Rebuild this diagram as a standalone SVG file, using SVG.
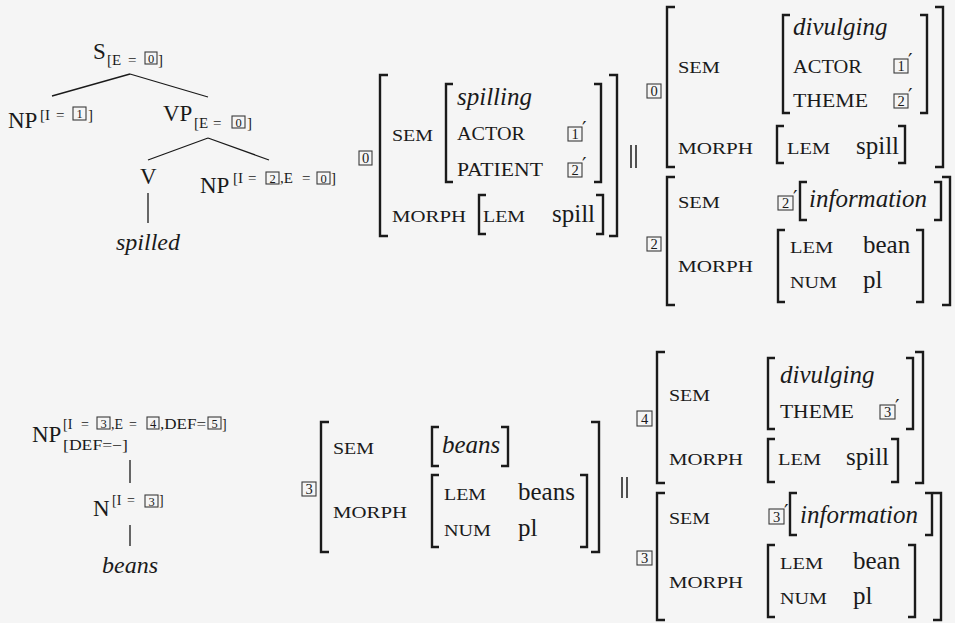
<svg xmlns="http://www.w3.org/2000/svg" width="955" height="623" viewBox="0 0 955 623">
  <style>
    text { font-family: "Liberation Serif", "DejaVu Serif", serif; fill: #1a1a1a; }
    .lbl { font-size: 23px; }
    .scr { font-size: 15px; }
    .scr2 { font-size: 14px; }
    .it { font-style: italic; }
    .word { font-size: 25px; }
    .sc { font-size: 16.5px; }
    .sc2 { font-size: 18.5px; }
    .dig { font-size: 14.5px; text-anchor: middle; }
    .dig2 { font-size: 12.5px; text-anchor: middle; }
    .prime { font-family: "DejaVu Serif", serif; font-size: 20px; }
    .tag { fill: none; stroke: #3a3a3a; stroke-width: 1.1; }
    .br { fill: none; stroke: #1a1a1a; stroke-width: 2.4; }
    .edge { fill: none; stroke: #1a1a1a; stroke-width: 1.3; }
    .bar { stroke: #1a1a1a; stroke-width: 1.5; }
  </style>
  <rect width="955" height="623" fill="#f5f5f5"/>

  <!-- tree edges -->
  <g id="connectors">
    <path class="edge" d="M130 74 L52 96 M130 74 L208 97"/>
    <path class="edge" d="M208 138 L148 160 M208 138 L269 160"/>
    <path class="edge" d="M148 193 V223"/>
    <path class="edge" d="M130 460 V483 M130 525 V546"/>
  </g>

  <!-- tree for "spilled" -->
  <g id="node-S">
    <text class="lbl" x="93" y="59">S</text>
    <text class="scr" x="107" y="65">[E</text>
    <text class="scr" x="128" y="65">=</text>
    <rect class="tag" x="145" y="52" width="12" height="12"/>
    <text class="dig2" x="151" y="62.5">0</text>
    <text class="scr" x="158" y="65">]</text>
  </g>
  <g id="node-NP-subj">
    <text class="lbl" x="8" y="128">NP</text>
    <text class="scr" x="40" y="120">[I</text>
    <text class="scr" x="56" y="120">=</text>
    <rect class="tag" x="73" y="107" width="13" height="13"/>
    <text class="dig2" x="79.5" y="118">1</text>
    <text class="scr" x="88" y="120">]</text>
  </g>
  <g id="node-VP">
    <text class="lbl" x="163" y="121">VP</text>
    <text class="scr" x="194" y="128">[E</text>
    <text class="scr" x="213" y="128">=</text>
    <rect class="tag" x="232" y="116" width="13" height="12"/>
    <text class="dig2" x="238.5" y="126.5">0</text>
    <text class="scr" x="247" y="128">]</text>
  </g>
  <g id="node-V">
    <text class="lbl" x="140" y="184">V</text>
  </g>
  <g id="node-NP-obj">
    <text class="lbl" x="200" y="193">NP</text>
    <text class="scr" x="233" y="183">[I</text>
    <text class="scr" x="248" y="183">=</text>
    <rect class="tag" x="266" y="172" width="13" height="12"/>
    <text class="dig2" x="272.5" y="182.5">2</text>
    <text class="scr" x="280" y="183">,E</text>
    <text class="scr" x="302" y="183">=</text>
    <rect class="tag" x="317" y="172" width="13" height="12"/>
    <text class="dig2" x="323.5" y="182.5">0</text>
    <text class="scr" x="331" y="183">]</text>
  </g>
  <g id="leaf-spilled">
    <text class="lbl it" x="116" y="250" style="font-size:24px">spilled</text>
  </g>

  <!-- tree for "beans" -->
  <g id="node-NP-beans">
    <text class="lbl" x="32" y="442">NP</text>
    <text class="scr2" x="63" y="429">[I</text>
    <text class="scr2" x="81" y="429">=</text>
    <rect class="tag" x="97" y="417" width="13" height="12"/>
    <text class="dig2" x="103.5" y="427.5">3</text>
    <text class="scr2" x="111" y="429">,E</text>
    <text class="scr2" x="129" y="429">=</text>
    <rect class="tag" x="147" y="417" width="12" height="12"/>
    <text class="dig2" x="153" y="427.5">4</text>
    <text class="scr2" x="160" y="429" textLength="46" lengthAdjust="spacingAndGlyphs">,DEF=</text>
    <rect class="tag" x="208" y="417" width="13" height="12"/>
    <text class="dig2" x="214.5" y="427.5">5</text>
    <text class="scr2" x="222" y="429">]</text>
    <text class="scr2" x="63" y="450" textLength="65" lengthAdjust="spacingAndGlyphs">[DEF=−]</text>
  </g>
  <g id="node-N">
    <text class="lbl" x="93" y="516">N</text>
    <text class="scr2" x="112" y="505">[I</text>
    <text class="scr2" x="127" y="505">=</text>
    <rect class="tag" x="145" y="495" width="13" height="12"/>
    <text class="dig2" x="151.5" y="505.5">3</text>
    <text class="scr2" x="159" y="505">]</text>
  </g>
  <g id="leaf-beans">
    <text class="lbl it" x="102" y="573" style="font-size:24px">beans</text>
  </g>

  <!-- AVM: spill (literal) -->
  <g id="avm-spill">
    <rect class="tag" x="359" y="151" width="13" height="14"/>
    <text class="dig" x="365.5" y="163">0</text>
    <path class="br" d="M388 75 H380 V236 H388 M609 75 H617 V236 H609"/>
    <text class="sc" x="392" y="141" textLength="41" lengthAdjust="spacingAndGlyphs">SEM</text>
    <path class="br" d="M453 84 H446 V182 H453 M594 84 H601 V182 H594"/>
    <text class="word it" x="457" y="105">spilling</text>
    <text class="sc2" x="457" y="140" textLength="68" lengthAdjust="spacingAndGlyphs">ACTOR</text>
    <rect class="tag" x="568" y="127" width="14" height="14"/>
    <text class="dig" x="575" y="139">1</text>
    <text class="prime" x="582" y="136">′</text>
    <text class="sc2" x="457" y="176" textLength="86" lengthAdjust="spacingAndGlyphs">PATIENT</text>
    <rect class="tag" x="568" y="163" width="14" height="14"/>
    <text class="dig" x="575" y="175">2</text>
    <text class="prime" x="582" y="172">′</text>
    <text class="sc" x="392" y="222" textLength="74" lengthAdjust="spacingAndGlyphs">MORPH</text>
    <path class="br" d="M486 195 H479 V234 H486 M596 195 H603 V234 H596"/>
    <text class="sc" x="483" y="222" textLength="42" lengthAdjust="spacingAndGlyphs">LEM</text>
    <text class="word" x="552" y="222">spill</text>
  </g>
  <g id="alt-1">
    <line class="bar" x1="631" y1="145" x2="631" y2="168"/>
    <line class="bar" x1="636" y1="145" x2="636" y2="168"/>
  </g>

  <!-- AVM: divulge (idiomatic) -->
  <g id="avm-divulge">
    <rect class="tag" x="647" y="84" width="14" height="14"/>
    <text class="dig" x="654" y="96">0</text>
    <path class="br" d="M675 7 H667 V167 H675 M935 7 H943 V167 H935"/>
    <text class="sc" x="678" y="73" textLength="42" lengthAdjust="spacingAndGlyphs">SEM</text>
    <path class="br" d="M790 15 H783 V113 H790 M920 15 H927 V113 H920"/>
    <text class="word it" x="793" y="35">divulging</text>
    <text class="sc2" x="793" y="73" textLength="69" lengthAdjust="spacingAndGlyphs">ACTOR</text>
    <rect class="tag" x="894" y="59" width="14" height="14"/>
    <text class="dig" x="901" y="71">1</text>
    <text class="prime" x="908" y="68">′</text>
    <text class="sc2" x="793" y="107" textLength="75" lengthAdjust="spacingAndGlyphs">THEME</text>
    <rect class="tag" x="894" y="94" width="14" height="14"/>
    <text class="dig" x="901" y="106">2</text>
    <text class="prime" x="908" y="103">′</text>
    <text class="sc" x="678" y="154" textLength="75" lengthAdjust="spacingAndGlyphs">MORPH</text>
    <path class="br" d="M784 126 H777 V163 H784 M898 126 H905 V163 H898"/>
    <text class="sc" x="787" y="154" textLength="43" lengthAdjust="spacingAndGlyphs">LEM</text>
    <text class="word" x="856" y="154">spill</text>
  </g>

  <!-- AVM: bean (idiomatic) -->
  <g id="avm-information-1">
    <rect class="tag" x="647" y="237" width="14" height="14"/>
    <text class="dig" x="654" y="249">2</text>
    <path class="br" d="M675 177 H667 V305 H675 M942 177 H950 V305 H942"/>
    <text class="sc" x="678" y="208" textLength="42" lengthAdjust="spacingAndGlyphs">SEM</text>
    <rect class="tag" x="778" y="196" width="15" height="14"/>
    <text class="dig" x="785.5" y="208">2</text>
    <text class="prime" x="793" y="205">′</text>
    <path class="br" d="M807 182 H800 V220 H807 M934 182 H941 V220 H934"/>
    <text class="word it" x="809" y="207">information</text>
    <text class="sc" x="678" y="272" textLength="75" lengthAdjust="spacingAndGlyphs">MORPH</text>
    <path class="br" d="M785 230 H778 V302 H785 M916 230 H923 V302 H916"/>
    <text class="sc" x="790" y="253" textLength="43" lengthAdjust="spacingAndGlyphs">LEM</text>
    <text class="word" x="863" y="253">bean</text>
    <text class="sc" x="790" y="288" textLength="47" lengthAdjust="spacingAndGlyphs">NUM</text>
    <text class="word" x="863" y="288">pl</text>
  </g>

  <!-- AVM: beans (literal) -->
  <g id="avm-beans">
    <rect class="tag" x="302" y="482" width="14" height="14"/>
    <text class="dig" x="309" y="494">3</text>
    <path class="br" d="M329 422 H321 V552 H329 M591 422 H599 V552 H591"/>
    <text class="sc" x="333" y="454" textLength="41" lengthAdjust="spacingAndGlyphs">SEM</text>
    <path class="br" d="M439 427 H432 V466 H439 M501 427 H508 V466 H501"/>
    <text class="word it" x="442" y="453">beans</text>
    <text class="sc" x="333" y="518" textLength="74" lengthAdjust="spacingAndGlyphs">MORPH</text>
    <path class="br" d="M439 475 H432 V547 H439 M580 475 H587 V547 H580"/>
    <text class="sc" x="444" y="500" textLength="42" lengthAdjust="spacingAndGlyphs">LEM</text>
    <text class="word" x="518" y="500">beans</text>
    <text class="sc" x="444" y="536" textLength="47" lengthAdjust="spacingAndGlyphs">NUM</text>
    <text class="word" x="518" y="536">pl</text>
  </g>
  <g id="alt-2">
    <line class="bar" x1="622" y1="477" x2="622" y2="498"/>
    <line class="bar" x1="627" y1="477" x2="627" y2="498"/>
  </g>

  <!-- AVM: divulge (idiomatic, beans) -->
  <g id="avm-divulge-2">
    <rect class="tag" x="637" y="411" width="15" height="15"/>
    <text class="dig" x="644.5" y="423.5">4</text>
    <path class="br" d="M665 352 H657 V483 H665 M915 352 H923 V483 H915"/>
    <text class="sc" x="669" y="401" textLength="41" lengthAdjust="spacingAndGlyphs">SEM</text>
    <path class="br" d="M775 358 H768 V429 H775 M906 358 H913 V429 H906"/>
    <text class="word it" x="780" y="383">divulging</text>
    <text class="sc2" x="780" y="418" textLength="74" lengthAdjust="spacingAndGlyphs">THEME</text>
    <rect class="tag" x="880" y="405" width="15" height="14"/>
    <text class="dig" x="887.5" y="417">3</text>
    <text class="prime" x="895" y="414">′</text>
    <text class="sc" x="669" y="465" textLength="74" lengthAdjust="spacingAndGlyphs">MORPH</text>
    <path class="br" d="M775 439 H768 V482 H775 M891 439 H898 V482 H891"/>
    <text class="sc" x="778" y="465" textLength="43" lengthAdjust="spacingAndGlyphs">LEM</text>
    <text class="word" x="846" y="465">spill</text>
  </g>

  <!-- AVM: bean (idiomatic, beans) -->
  <g id="avm-information-2">
    <rect class="tag" x="637" y="551" width="15" height="14"/>
    <text class="dig" x="644.5" y="563">3</text>
    <path class="br" d="M665 493 H657 V620 H665 M933 493 H941 V620 H933"/>
    <text class="sc" x="669" y="524" textLength="41" lengthAdjust="spacingAndGlyphs">SEM</text>
    <rect class="tag" x="769" y="509" width="15" height="15"/>
    <text class="dig" x="776.5" y="521.5">3</text>
    <text class="prime" x="784" y="519">′</text>
    <path class="br" d="M797 493 H790 V535 H797 M925 493 H932 V535 H925"/>
    <text class="word it" x="800" y="523">information</text>
    <text class="sc" x="669" y="588" textLength="74" lengthAdjust="spacingAndGlyphs">MORPH</text>
    <path class="br" d="M775 545 H768 V617 H775 M908 545 H915 V617 H908"/>
    <text class="sc" x="780" y="569" textLength="43" lengthAdjust="spacingAndGlyphs">LEM</text>
    <text class="word" x="853" y="569">bean</text>
    <text class="sc" x="780" y="604" textLength="47" lengthAdjust="spacingAndGlyphs">NUM</text>
    <text class="word" x="853" y="604">pl</text>
  </g>
</svg>
